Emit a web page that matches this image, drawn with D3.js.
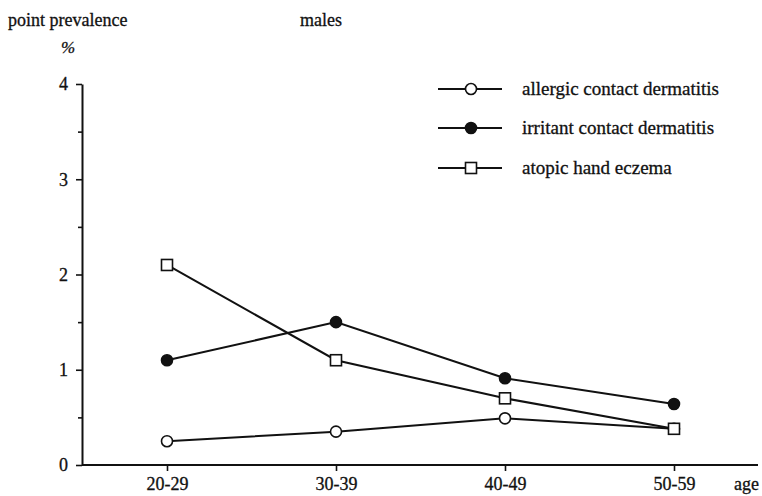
<!DOCTYPE html>
<html>
<head>
<meta charset="utf-8">
<script src="https://cdn.jsdelivr.net/npm/d3@7"></script>
<style>
  body { margin: 0; background: #fff; }
  svg { display: block; }
  text { font-family: "Liberation Serif", "Times New Roman", serif; fill: #111; stroke: #111; stroke-width: 0.3px; }
</style>
</head>
<body>
<svg id="chart" width="762" height="496"></svg>
<script>
// Age groups (x categories)
const ageGroups = ["20-29", "30-39", "40-49", "50-59"];

// Point prevalence (%) among males, by diagnosis
const allergic = [0.25, 0.35, 0.49, 0.38];
const irritant = [1.1, 1.5, 0.91, 0.64];
const atopic = [2.1, 1.1, 0.7, 0.38];

const seriesNames = ["allergic contact dermatitis", "irritant contact dermatitis", "atopic hand eczema"];
const yTicks = [0, 1, 2, 3, 4];
const yMinorTicks = [0.5, 1.5, 2.5, 3.5];

const series = [
  { name: seriesNames[0], values: allergic, marker: "openCircle" },
  { name: seriesNames[1], values: irritant, marker: "filledCircle" },
  { name: seriesNames[2], values: atopic, marker: "openSquare" }
];

const svg = d3.select("#chart");
const ink = "#111";
const fontFamily = '"Liberation Serif", "Times New Roman", serif';

const x = d3.scalePoint().domain(ageGroups).range([167, 674]);
const y = d3.scaleLinear().domain([0, 4]).range([465, 84]);

// y axis: major ticks with labels, minor ticks in between
const yAxis = svg.append("g").attr("transform", "translate(82,0)")
  .call(d3.axisLeft(y).tickValues(yTicks).tickFormat(d3.format("d")).tickSize(6).tickSizeOuter(0).tickPadding(8));
yAxis.attr("font-family", fontFamily).attr("font-size", 18);
yAxis.select(".domain").attr("stroke", ink).attr("stroke-width", 2);
yAxis.selectAll(".tick line").attr("stroke", ink).attr("stroke-width", 1.6);
yAxis.selectAll(".tick text").attr("fill", ink);

const yMinor = svg.append("g").attr("transform", "translate(82,0)")
  .call(d3.axisLeft(y).tickValues(yMinorTicks).tickFormat("").tickSize(4).tickSizeOuter(0));
yMinor.select(".domain").remove();
yMinor.selectAll(".tick line").attr("stroke", ink).attr("stroke-width", 1.6);

// x axis along zero, extending to the right edge
const xAxis = svg.append("g").attr("transform", `translate(0,${y(0)})`)
  .call(d3.axisBottom(x).tickSize(6).tickSizeOuter(0).tickPadding(6));
xAxis.attr("font-family", fontFamily).attr("font-size", 18);
xAxis.select(".domain").attr("d", "M82,0H758").attr("stroke", ink).attr("stroke-width", 2);
xAxis.selectAll(".tick line").attr("stroke", ink).attr("stroke-width", 1.6);
xAxis.selectAll(".tick text").attr("fill", ink);

// axis titles
svg.append("text").attr("x", 8).attr("y", 26).attr("font-size", 18).text("point prevalence");
svg.append("text").attr("x", 61).attr("y", 53).attr("font-size", 17).attr("font-style", "italic").text("%");
svg.append("text").attr("x", 300).attr("y", 26).attr("font-size", 18).text("males");
svg.append("text").attr("x", 734).attr("y", 490).attr("font-size", 18).text("age");

// markers
function drawMarker(g, type, cx, cy) {
  if (type === "openSquare") {
    g.append("rect").attr("x", cx - 5.5).attr("y", cy - 5.5).attr("width", 11).attr("height", 11)
      .attr("fill", "#fff").attr("stroke", ink).attr("stroke-width", 1.6);
  } else {
    g.append("circle").attr("cx", cx).attr("cy", cy).attr("r", 5.5)
      .attr("fill", type === "filledCircle" ? ink : "#fff").attr("stroke", ink).attr("stroke-width", 1.6);
  }
}

const line = d3.line().x((d, i) => x(ageGroups[i])).y(d => y(d));

series.forEach(s => {
  svg.append("path").datum(s.values).attr("d", line)
    .attr("fill", "none").attr("stroke", ink).attr("stroke-width", 2);
});
series.forEach(s => {
  const g = svg.append("g");
  s.values.forEach((v, i) => drawMarker(g, s.marker, x(ageGroups[i]), y(v)));
});

// legend
const legendRows = [89, 128, 168];
series.forEach((s, i) => {
  const g = svg.append("g").attr("transform", `translate(0,${legendRows[i]})`);
  g.append("line").attr("x1", 438).attr("x2", 502).attr("y1", 0).attr("y2", 0)
    .attr("stroke", ink).attr("stroke-width", 2);
  drawMarker(g, s.marker, 471, 0);
  g.append("text").attr("x", 522).attr("y", 6).attr("font-size", 19).text(s.name);
});
</script>
</body>
</html>
